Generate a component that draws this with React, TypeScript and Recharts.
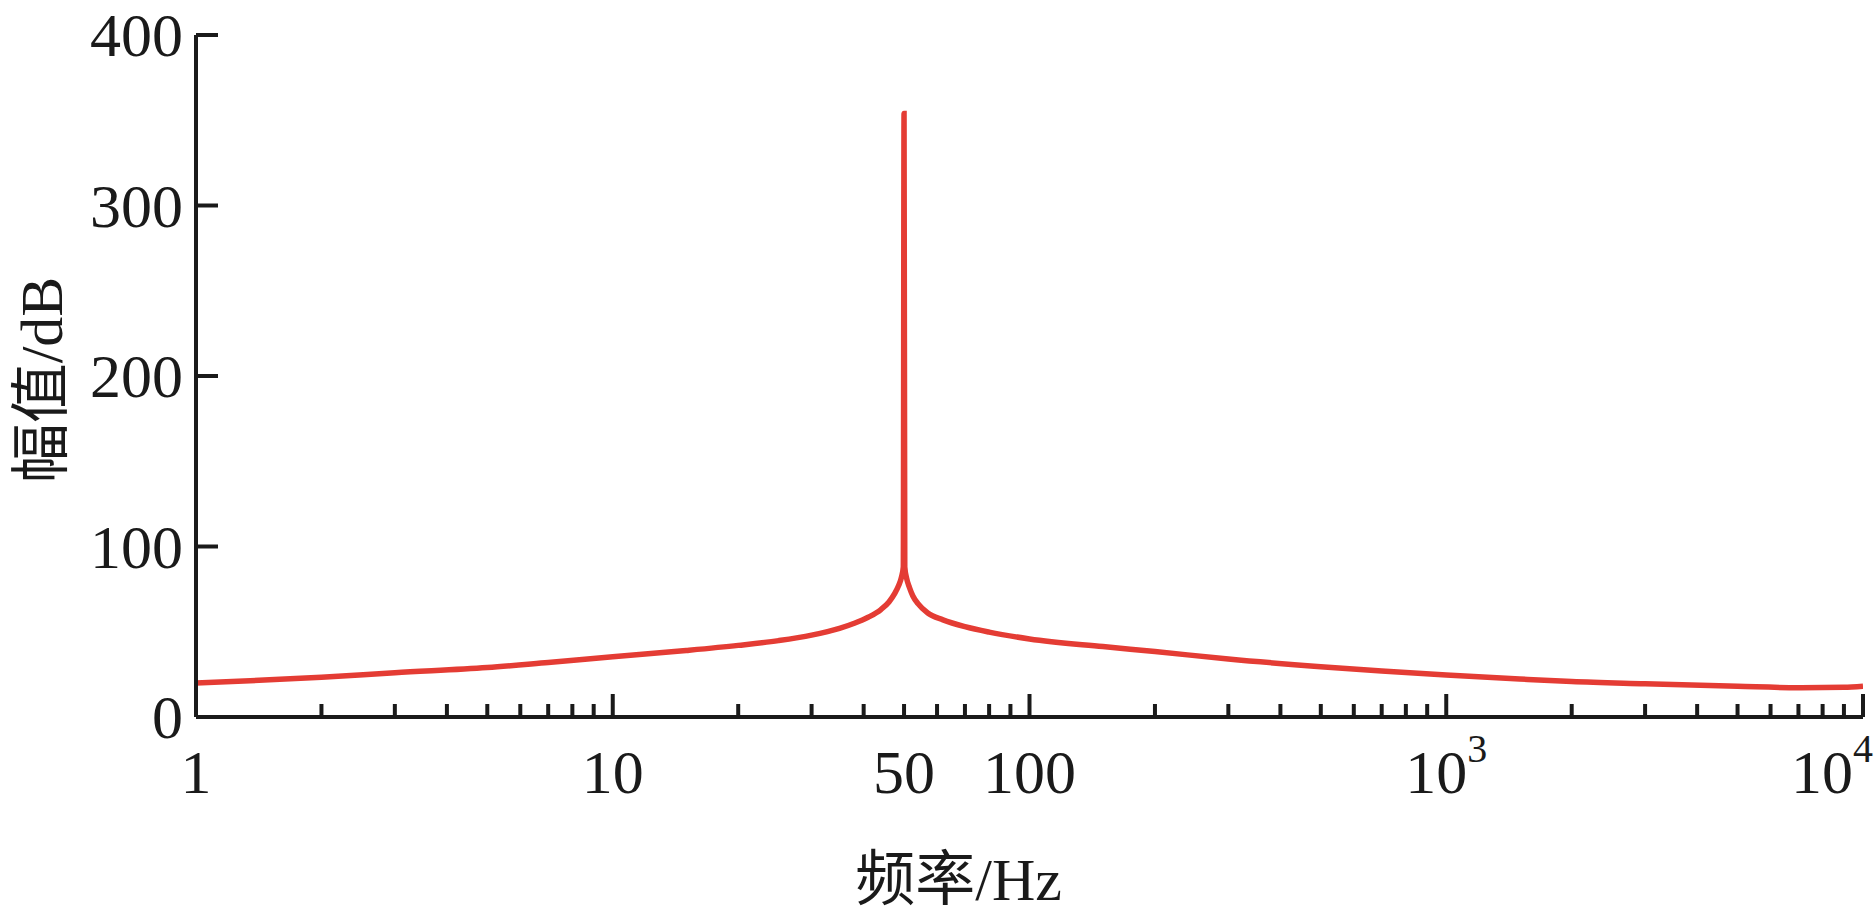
import { Line, LineChart, XAxis, YAxis } from "recharts";

const freqs = [
  1, 1.5, 2, 3, 5, 7, 10, 15, 20, 25, 30, 35, 38, 41, 44, 46, 47.5, 48.5, 49.3,
  49.8, 50, 50.2, 50.7, 51.5, 52.5, 54, 57, 62, 70, 80, 100, 150, 200, 300,
  500, 700, 1000, 1500, 2000, 3000, 5000, 7000, 9000, 10000,
];
const amps = [
  20, 21.8, 23.3, 26, 29, 32, 35.3, 39, 42, 44.8, 48, 52, 55, 58.5, 63, 67.5,
  72.5, 77, 82, 88, 354, 88, 81.5, 76, 71, 66.5, 61, 57, 53, 49.8, 45.8, 41.3,
  38.4, 34, 29.5, 27, 24.7, 22.3, 20.8, 19.5, 18, 17.2, 17.4, 18,
];

const xTicks = [
  1, 2, 3, 4, 5, 6, 7, 8, 9, 10, 20, 30, 40, 50, 60, 70, 80, 90, 100, 200,
  300, 400, 500, 600, 700, 800, 900, 1000, 2000, 3000, 4000, 5000, 6000, 7000,
  8000, 9000, 10000,
];
const majorTicks = [10, 100, 1000, 10000];
const xLabels: Record<number, [string, string?]> = {
  1: ["1"],
  10: ["10"],
  50: ["50"],
  100: ["100"],
  1000: ["10", "3"],
  10000: ["10", "4"],
};
const yTicks = [0, 100, 200, 300, 400];

const data = freqs.map((f, i) => ({ f, a: amps[i] }));

const INK = "#1a1a1a";
const SERIF = "'Liberation Serif', 'Times New Roman', 'Noto Sans CJK SC', serif";

function XTick({ x, y, payload }: any) {
  const v = payload.value as number;
  const len = majorTicks.includes(v) ? 23 : 13;
  const lab = xLabels[v];
  const last = v === 10000;
  return (
    <g>
      <line x1={x} x2={x} y1={y} y2={y - len} stroke={INK} strokeWidth={4} />
      {lab && (
        <text
          x={last ? x + 10 : x}
          y={y + 76}
          textAnchor={last ? "end" : "middle"}
          fontFamily={SERIF}
          fontSize={62}
          fill={INK}
        >
          <tspan>{lab[0]}</tspan>
          {lab[1] && (
            <tspan dy={-31} fontSize={40}>
              {lab[1]}
            </tspan>
          )}
        </text>
      )}
    </g>
  );
}

function YTick({ x, y, payload }: any) {
  return (
    <g>
      <line x1={x} x2={x + 22} y1={y} y2={y} stroke={INK} strokeWidth={4} />
      <text
        x={x - 13}
        y={y + 21}
        textAnchor="end"
        fontFamily={SERIF}
        fontSize={62}
        fill={INK}
      >
        {payload.value}
      </text>
    </g>
  );
}

function XTitle({ viewBox }: any) {
  return (
    <text
      x={viewBox.x + viewBox.width * 0.4575}
      y={900}
      textAnchor="middle"
      fontFamily={SERIF}
      fontSize={60}
      fill={INK}
    >
      频率/Hz
    </text>
  );
}

function YTitle({ viewBox }: any) {
  const cy = viewBox.y + viewBox.height / 2 + 4;
  return (
    <text
      x={62}
      y={cy}
      transform={`rotate(-90 62 ${cy})`}
      textAnchor="middle"
      fontFamily={SERIF}
      fontSize={60}
      fill={INK}
    >
      幅值/dB
    </text>
  );
}

export default function App() {
  return (
    <div style={{ position: "absolute", left: 0, top: 0, background: "#fff" }}>
      <LineChart
        width={1874}
        height={920}
        data={data}
        margin={{ top: 35, right: 11, left: 0, bottom: 0 }}
      >
        <XAxis
          dataKey="f"
          type="number"
          scale="log"
          domain={[1, 10000]}
          ticks={xTicks}
          interval={0}
          allowDataOverflow
          height={203}
          tickSize={0}
          tickMargin={0}
          tickLine={false}
          axisLine={{ stroke: INK, strokeWidth: 4 }}
          tick={<XTick />}
          label={<XTitle />}
        />
        <YAxis
          type="number"
          domain={[0, 400]}
          ticks={yTicks}
          interval={0}
          width={196}
          tickSize={0}
          tickMargin={0}
          tickLine={false}
          axisLine={{ stroke: INK, strokeWidth: 4 }}
          tick={<YTick />}
          label={<YTitle />}
        />
        <Line
          dataKey="a"
          type="monotone"
          stroke="#e43c34"
          strokeWidth={5.5}
          dot={false}
          activeDot={false}
          isAnimationActive={false}
        />
      </LineChart>
    </div>
  );
}
